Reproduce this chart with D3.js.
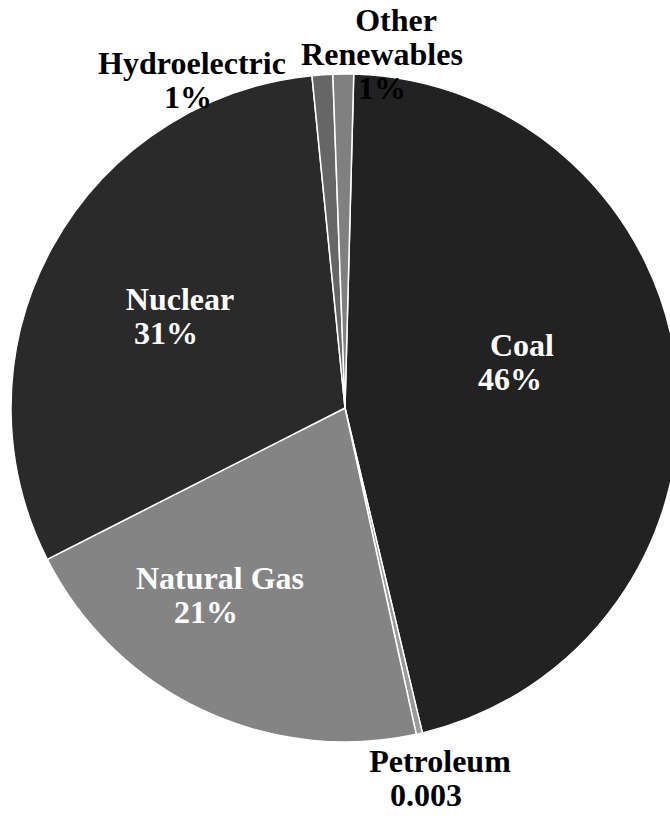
<!DOCTYPE html>
<html>
<head>
<meta charset="utf-8">
<script src="https://cdn.jsdelivr.net/npm/d3@7/dist/d3.min.js"></script>
<style>
  html, body { margin: 0; padding: 0; background: #fff; }
  svg { display: block; }
  text { font-family: "Liberation Serif", "Times New Roman", serif; font-weight: bold; }
</style>
</head>
<body>
<svg id="chart" width="670" height="816"></svg>
<script>
// Electricity generation by source (share of total)
const categories = ["Coal", "Petroleum", "Natural Gas", "Nuclear", "Hydroelectric", "Other Renewables"];
const shares     = [0.46, 0.003, 0.21, 0.31, 0.01, 0.01];
const valueLabels = ["46%", "0.003", "21%", "31%", "1%", "1%"];

// Slice fills (grayscale print palette)
const fills = ["#222222", "#9a9a9a", "#848484", "#2a2a2a", "#666666", "#808080"];

// Label layout: name lines, anchor point and text colour per slice
const labelLines = [["Coal"], ["Petroleum"], ["Natural Gas"], ["Nuclear"], ["Hydroelectric"], ["Other", "Renewables"]];
const labelAnchor = [[522, 356], [440, 772], [220, 589], [180, 310], [192, 74], [390, 31]];
const labelIndent = [[0, -12], [0, -14], [0, -14], [0, -14], [0, -4], [6, -8, -8]];
const labelColor = ["#fff", "#000", "#fff", "#fff", "#000", "#000"];

const svg = d3.select("#chart");
const cx = 345, cy = 408, radius = 334;
const rotation = 1.5 * Math.PI / 180;

const pie = d3.pie().sort(null).value(d => d)
  .startAngle(rotation).endAngle(rotation + 2 * Math.PI);
const arcs = pie(shares);
const arc = d3.arc().innerRadius(0).outerRadius(radius);

const g = svg.append("g").attr("transform", `translate(${cx},${cy})`);
g.selectAll("path.slice")
  .data(arcs)
  .join("path")
  .attr("class", "slice")
  .attr("d", arc)
  .attr("fill", (d, i) => fills[i])
  .attr("stroke", "#fff")
  .attr("stroke-width", 1.5)
  .attr("stroke-linejoin", "round");

// Data labels: category name(s) followed by the value
const fontSize = 32, lineGap = 34;
categories.forEach((c, i) => {
  const lines = labelLines[i].concat([valueLabels[i]]);
  const [ax, ay] = labelAnchor[i];
  const t = svg.append("text")
    .attr("text-anchor", "middle")
    .attr("font-size", fontSize)
    .attr("fill", labelColor[i]);
  lines.forEach((ln, k) => {
    t.append("tspan")
      .attr("x", ax + (labelIndent[i][k] || 0))
      .attr("y", ay + k * lineGap)
      .text(ln);
  });
});
</script>
</body>
</html>
